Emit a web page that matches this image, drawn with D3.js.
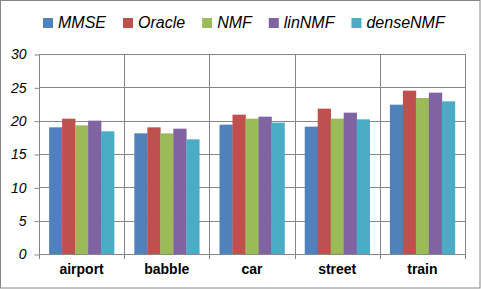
<!DOCTYPE html>
<html>
<head>
<meta charset="utf-8">
<script src="https://cdnjs.cloudflare.com/ajax/libs/d3/7.8.5/d3.min.js"></script>
<style>
  body { margin: 0; background: #fff; }
  svg { display: block; font-family: "Liberation Sans", Arial, sans-serif; }
</style>
</head>
<body>
<div id="chart"></div>
<script>
// values
var categories = ["airport", "babble", "car", "street", "train"];
var seriesNames = ["MMSE", "Oracle", "NMF", "linNMF", "denseNMF"];
var mmse     = [19.0, 18.1, 19.4, 19.1, 22.4];
var oracle   = [20.3, 19.0, 20.9, 21.8, 24.5];
var nmf      = [19.3, 18.1, 20.3, 20.3, 23.4];
var linNmf   = [20.0, 18.8, 20.6, 21.2, 24.2];
var denseNmf = [18.4, 17.2, 19.7, 20.2, 22.9];
var yTicks = [0, 5, 10, 15, 20, 25, 30];

var seriesValues = [mmse, oracle, nmf, linNmf, denseNmf];
var colors = ["#4F81BD", "#C0504D", "#9BBB59", "#8064A2", "#4BACC6"];

var W = 481, H = 289;
// plot area edges (window.top is reserved, so own names)
var plotLeft = 39, plotRight = 465, plotTop = 54, plotBottom = 254;
var gridColor = "#868686";

var svg = d3.select("#chart").append("svg")
    .attr("width", W)
    .attr("height", H);

svg.append("rect")
    .attr("x", 0.5).attr("y", 0.5)
    .attr("width", 479.5).attr("height", 287.5)
    .attr("fill", "#fff")
    .attr("stroke", gridColor)
    .attr("stroke-width", 1);

var x0 = d3.scaleBand().domain(categories).range([plotLeft, plotRight]).paddingInner(0).paddingOuter(0);
var x1 = d3.scaleBand().domain(seriesNames).range([0, x0.bandwidth()]).paddingInner(0).paddingOuter(0.78);
var y = d3.scaleLinear().domain([0, 30]).range([plotBottom, plotTop]);

// horizontal grid
svg.append("g").selectAll("line")
    .data(yTicks.filter(function(d) { return d > 0; }))
    .enter().append("line")
    .attr("x1", plotLeft).attr("x2", plotRight)
    .attr("y1", function(d) { return Math.round(y(d)) + 0.5; })
    .attr("y2", function(d) { return Math.round(y(d)) + 0.5; })
    .attr("stroke", gridColor);

// vertical grid at category boundaries
var bounds = categories.map(function(c) { return x0(c) + x0.bandwidth(); });
svg.append("g").selectAll("line")
    .data(bounds)
    .enter().append("line")
    .attr("x1", function(d) { return Math.round(d) + 0.5; })
    .attr("x2", function(d) { return Math.round(d) + 0.5; })
    .attr("y1", plotTop).attr("y2", plotBottom + 5)
    .attr("stroke", gridColor);

// bars
var rows = categories.map(function(c, i) {
    return seriesNames.map(function(s, j) {
        return { cat: c, series: s, value: seriesValues[j][i], color: colors[j] };
    });
});

svg.append("g").selectAll("g")
    .data(rows)
    .enter().append("g")
    .attr("transform", function(d, i) { return "translate(" + x0(categories[i]) + ",0)"; })
    .selectAll("rect")
    .data(function(d) { return d; })
    .enter().append("rect")
    .attr("x", function(d) { return x1(d.series); })
    .attr("width", x1.bandwidth() + 0.3)
    .attr("y", function(d) { return y(d.value); })
    .attr("height", function(d) { return plotBottom - y(d.value); })
    .attr("fill", function(d) { return d.color; });

// y axis
var yAxis = svg.append("g")
    .attr("transform", "translate(" + (plotLeft + 0.5) + ",0.5)")
    .call(d3.axisLeft(y).tickValues(yTicks).tickSize(5).tickPadding(8));
yAxis.selectAll("line").attr("stroke", gridColor);
yAxis.select(".domain").attr("stroke", "none");
yAxis.selectAll("text")
    .attr("font-size", 14)
    .attr("font-style", "italic")
    .attr("fill", "#000")
    .attr("font-family", "'Liberation Sans', Arial, sans-serif");
svg.append("line")
    .attr("x1", plotLeft + 0.5).attr("x2", plotLeft + 0.5)
    .attr("y1", plotTop).attr("y2", plotBottom + 5)
    .attr("stroke", gridColor);

// x axis line
svg.append("line")
    .attr("x1", plotLeft).attr("x2", plotRight + 1)
    .attr("y1", plotBottom + 0.5).attr("y2", plotBottom + 0.5)
    .attr("stroke", gridColor);

// category labels
svg.append("g").selectAll("text")
    .data(categories)
    .enter().append("text")
    .attr("x", function(d) { return x0(d) + x0.bandwidth() / 2; })
    .attr("y", 274)
    .attr("text-anchor", "middle")
    .attr("font-size", 14)
    .attr("font-weight", "bold")
    .text(function(d) { return d; });

// legend
var legend = svg.append("g");
var items = legend.selectAll("g")
    .data(seriesNames)
    .enter().append("g");
items.append("rect")
    .attr("width", 10).attr("height", 10)
    .attr("y", 18)
    .attr("fill", function(d, i) { return colors[i]; });
items.append("text")
    .attr("x", 15)
    .attr("y", 28)
    .attr("font-size", 16)
    .attr("font-style", "italic")
    .text(function(d) { return d; });

var pos = 0;
var offsets = [];
items.each(function() {
    offsets.push(pos);
    pos += 15 + d3.select(this).select("text").node().getComputedTextLength() + 17;
});
var total = pos - 17;
var start = Math.round(243.5 - total / 2);
items.attr("transform", function(d, i) { return "translate(" + (start + offsets[i]) + ",0)"; });
</script>
</body>
</html>
